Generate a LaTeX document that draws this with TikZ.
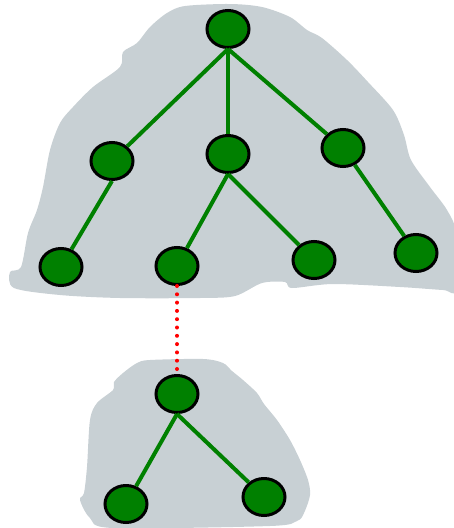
\documentclass[tikz,border=0pt]{standalone}
\usepackage{tikz}
\usetikzlibrary{positioning}
\usetikzlibrary{shapes.geometric}

\definecolor{leafgreen}{RGB}{0,128,0}
\definecolor{cloudgrey}{RGB}{200,208,212}

\begin{document}
\begin{tikzpicture}
    [x=1pt,y=-1pt,
     every node/.style={ellipse,draw,line width=3pt,fill=leafgreen,
                        minimum width=42pt,minimum height=37pt,inner sep=0pt}]

    \tikzstyle{blob} = [fill=cloudgrey]
    \tikzstyle{edge} = [draw=leafgreen,line width=4pt]
    \tikzstyle{link} = [draw=red,line width=4pt,line cap=round,dash pattern=on 0pt off 8.3pt]

    \useasboundingbox (0,0) rectangle (454,528);

    % the two grey clouds
    \fill [blob] plot [smooth cycle,tension=0.5] coordinates {
        (167,13) (185,6) (230,4) (262,7) (290,17) (307,30) (322,38) (347,60)
        (368,82) (393,110) (404,135) (411,160) (430,187) (447,210) (456,233)
        (456,290) (443,290) (400,287) (333,284) (292,288) (285,282) (262,283)
        (235,296) (200,298) (120,298) (60,295) (14,288) (10,272) (21,267)
        (28,233) (37,210) (43,187) (50,150) (60,123) (73,107) (93,87)
        (120,67) (123,52) (137,43) (150,27)} ;
    \fill [blob] plot [smooth cycle,tension=0.5] coordinates {
        (137,363) (150,360) (203,359) (223,363) (232,371) (243,380) (257,393)
        (264,404) (277,420) (290,440) (300,460) (308,480) (310,495) (304,513)
        (297,521) (270,526) (113,528) (90,518) (80,500) (84,493) (87,467)
        (90,420) (97,403) (113,390) (114,382) (123,373)} ;

    \node (root) at (228,29) {} ;
    \node (a) at (112,161) {} ;
    \node (b) at (228,154) {} ;
    \node (c) at (343,148) {} ;
    \node (d) at (61,267) {} ;
    \node (e) at (177,266) {} ;
    \node (f) at (314,260) {} ;
    \node (g) at (416,253) {} ;

    \node [below=88pt of e] (h) {} ;
    \node (i) at (126,504) {} ;
    \node (j) at (264,497) {} ;

    \draw [edge] (root.south) -- (a) ;
    \draw [edge] (root.south) -- (b) ;
    \draw [edge] (root.south) -- (c) ;
    \draw [edge] (a.south) -- (d) ;
    \draw [edge] (b.south) -- (e) ;
    \draw [edge] (b.south) -- (f) ;
    \draw [edge] (c) -- (g) ;

    \draw [edge] (h.south) -- (i) ;
    \draw [edge] (h.south) -- (j) ;

    \draw [link] (e.south) -- (h.north) ;
\end{tikzpicture}
\end{document}
